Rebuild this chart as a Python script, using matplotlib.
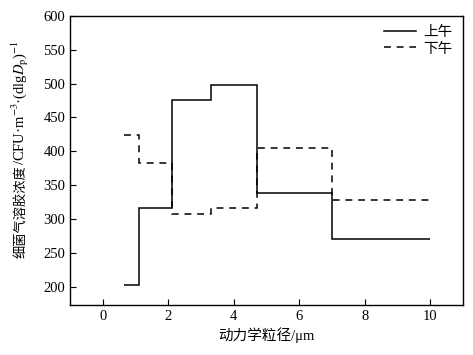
import matplotlib
matplotlib.use("Agg")
import matplotlib.pyplot as plt

# particle size bin edges (um) and concentrations
edges = [0.65, 1.1, 2.1, 3.3, 4.7, 7.0, 10.0]
morning = [203, 316, 476, 498, 338, 270]
afternoon = [424, 383, 307, 316, 405, 328]

plt.rcParams['font.family'] = ['Liberation Serif', 'Noto Sans CJK SC']
plt.rcParams['mathtext.fontset'] = 'stix'
plt.rcParams['font.size'] = 10.5

fig = plt.figure(figsize=(4.73, 3.55), dpi=100)
ax = fig.add_axes([0.148, 0.141, 0.831, 0.814])

ax.stairs(morning, edges, baseline=None, color='black', linewidth=1.1, label='上午')
ax.stairs(afternoon, edges, baseline=None, color='black', linewidth=1.1,
          linestyle=(0, (4.5, 3.8)), label='下午')

ax.set_xlim(-1, 11)
ax.set_ylim(173, 600)
ax.set_xticks([0, 2, 4, 6, 8, 10])
ax.set_yticks([200, 250, 300, 350, 400, 450, 500, 550, 600])
ax.tick_params(direction='in', length=4, width=0.8, top=False, right=False)
for s in ax.spines.values():
    s.set_linewidth(1.0)

ax.set_xlabel('动力学粒径/μm', fontsize=10.5, labelpad=3)

# y label in two pieces: CJK part, then the unit with math
t1 = fig.text(0.044, 0.273, '细菌气溶胶浓度', family=['Noto Sans CJK SC'], fontsize=9.5,
              rotation=90, ha='center', va='bottom')
ax.annotate('/CFU·m$^{-3}$·(dlg$D_\\mathrm{p}$)$^{-1}$', xy=(0.5, 1.0), xycoords=t1,
            rotation=90, ha='center', va='bottom', fontsize=10.5,
            family=['Liberation Serif', 'DejaVu Sans'])

leg = ax.legend(loc='upper right', frameon=False, handlelength=2.2, handletextpad=0.5,
                labelspacing=0.2, borderaxespad=0.3, fontsize=10.5)

fig.savefig('out.png', dpi=100)
